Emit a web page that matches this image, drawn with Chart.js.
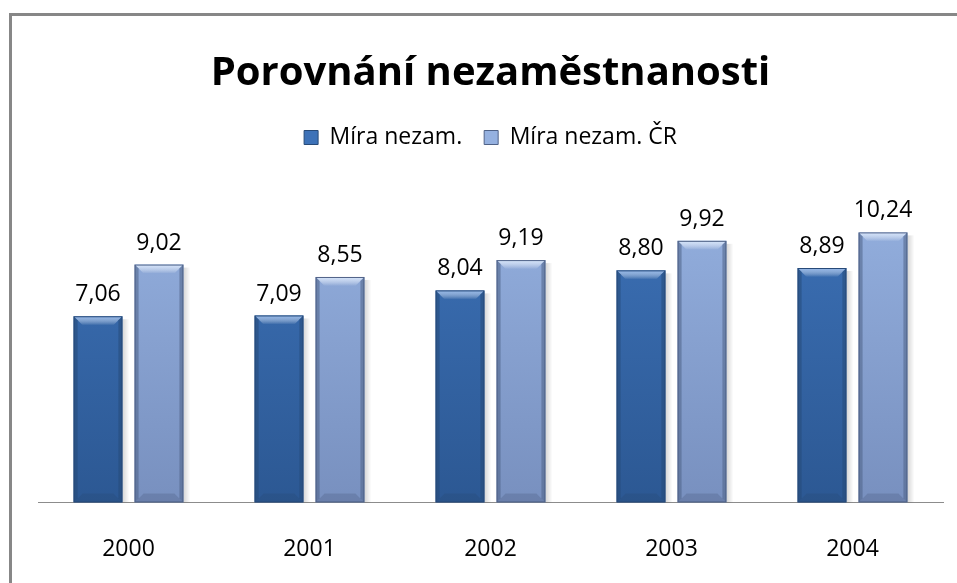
<!DOCTYPE html>
<html>
<head>
<meta charset="utf-8">
<script src="https://cdn.jsdelivr.net/npm/chart.js@4/dist/chart.umd.min.js"></script>
<style>
  body { margin: 0; background: #fff; overflow: hidden; }
  #frame { position: absolute; left: 9px; top: 13px; width: 1000px; height: 700px; border-left: 3px solid #878787; border-top: 3px solid #878787; }
  #chart { position: absolute; left: 0; top: 0; }
</style>
</head>
<body>
<div id="frame"></div>
<canvas id="chart" width="957" height="583"></canvas>
<script>
  // values
  const years = ['2000', '2001', '2002', '2003', '2004'];
  const miraNezam = [7.06, 7.09, 8.04, 8.80, 8.89];
  const miraNezamCR = [9.02, 8.55, 9.19, 9.92, 10.24];
  const seriesNames = ['Míra nezam.', 'Míra nezam. ČR'];

  const fontFamily = "'Open Sans', 'DejaVu Sans', sans-serif";

  // top/bottom colours for each series
  const shades = [
    { top: '#3d72b8', bottom: '#2c5893', edge: '#274a78', light: '#8fb4e8' },
    { top: '#95b1e0', bottom: '#7890bf', edge: '#4f6287', light: '#d4e4fb' }
  ];

  function barFill(i) {
    return function(ctx) {
      const area = ctx.chart.chartArea;
      if (!area) return shades[i].top;
      const g = ctx.chart.ctx.createLinearGradient(0, area.top, 0, area.bottom);
      g.addColorStop(0, shades[i].top);
      g.addColorStop(1, shades[i].bottom);
      return g;
    };
  }

  // extra room under the legend
  const legendGap = {
    id: 'legendGap',
    beforeInit(chart) {
      const fit = chart.legend.fit;
      chart.legend.fit = function() {
        fit.call(this);
        this.height += 27;
      };
    }
  };

  // soft shadow right of each bar
  const shadowPlugin = {
    id: 'barShadow',
    beforeDatasetsDraw(chart) {
      const c = chart.ctx;
      c.save();
      chart.data.datasets.forEach((ds, i) => {
        chart.getDatasetMeta(i).data.forEach(bar => {
          const left = bar.x + bar.width / 2;
          const g = c.createLinearGradient(left, 0, left + 7, 0);
          g.addColorStop(0, 'rgba(0,0,0,0.16)');
          g.addColorStop(1, 'rgba(0,0,0,0)');
          c.fillStyle = g;
          c.fillRect(left, bar.y + 3, 7, bar.base - bar.y - 3);
        });
      });
      c.restore();
    }
  };

  // bevel edges + value labels
  const bevelPlugin = {
    id: 'bevel',
    afterDatasetsDraw(chart) {
      const c = chart.ctx;
      c.save();
      chart.data.datasets.forEach((ds, i) => {
        chart.getDatasetMeta(i).data.forEach((bar, j) => {
          const l = bar.x - bar.width / 2, r = bar.x + bar.width / 2;
          const t = bar.y, b = bar.base;
          const bv = 9;
          // top highlight
          let g = c.createLinearGradient(0, t, 0, t + bv);
          g.addColorStop(0, shades[i].light);
          g.addColorStop(1, 'rgba(255,255,255,0)');
          c.fillStyle = g;
          c.beginPath();
          c.moveTo(l, t); c.lineTo(r, t); c.lineTo(r - bv, t + bv); c.lineTo(l + bv, t + bv); c.closePath();
          c.fill();
          // side edges
          c.globalAlpha = 0.55;
          c.fillStyle = shades[i].edge;
          c.beginPath();
          c.moveTo(l, t); c.lineTo(l + 4, t + 4); c.lineTo(l + 4, b - 4); c.lineTo(l, b); c.closePath();
          c.fill();
          c.beginPath();
          c.moveTo(r, t); c.lineTo(r - 4, t + 4); c.lineTo(r - 4, b - 4); c.lineTo(r, b); c.closePath();
          c.fill();
          // bottom
          c.globalAlpha = 0.35;
          c.beginPath();
          c.moveTo(l, b); c.lineTo(r, b); c.lineTo(r - bv, b - bv); c.lineTo(l + bv, b - bv); c.closePath();
          c.fill();
          c.globalAlpha = 1;
          c.strokeStyle = shades[i].edge;
          c.lineWidth = 1;
          c.strokeRect(l + 0.5, t + 0.5, r - l - 1, b - t - 1);
          // value label
          c.fillStyle = '#000';
          c.font = '23px ' + fontFamily;
          c.textAlign = 'center';
          c.textBaseline = 'bottom';
          c.fillText(ds.data[j].toFixed(2).replace('.', ','), bar.x, t - 10);
        });
      });
      c.restore();
    }
  };

  new Chart(document.getElementById('chart'), {
    type: 'bar',
    data: {
      labels: years,
      datasets: [
        { label: seriesNames[0], data: miraNezam, backgroundColor: barFill(0), borderWidth: 0 },
        { label: seriesNames[1], data: miraNezamCR, backgroundColor: barFill(1), borderWidth: 0 }
      ]
    },
    options: {
      responsive: false,
      animation: false,
      events: [],
      categoryPercentage: 0.674,
      barPercentage: 0.8,
      layout: { padding: { left: 38, right: 14, top: 0, bottom: -13 } },
      plugins: {
        title: {
          display: true,
          text: 'Porovnání nezaměstnanosti',
          color: '#000',
          font: { family: fontFamily, size: 40, weight: 'bold' },
          padding: { top: 50, bottom: 6 }
        },
        legend: {
          position: 'top',
          labels: {
            color: '#000',
            font: { family: fontFamily, size: 23 },
            boxWidth: 14,
            boxHeight: 14,
            padding: 22,
            generateLabels(chart) {
              return seriesNames.map((n, i) => ({
                text: n, fillStyle: shades[i].top, strokeStyle: shades[i].edge,
                lineWidth: 1, datasetIndex: i, hidden: false
              }));
            }
          }
        },
        tooltip: { enabled: false }
      },
      scales: {
        x: {
          grid: { display: false, drawTicks: false },
          border: { display: true, color: '#8c8c8c', width: 1 },
          ticks: { color: '#000', font: { family: fontFamily, size: 23 }, padding: 33 }
        },
        y: {
          display: false,
          min: 0,
          max: 12
        }
      }
    },
    plugins: [legendGap, shadowPlugin, bevelPlugin]
  });
</script>
</body>
</html>
